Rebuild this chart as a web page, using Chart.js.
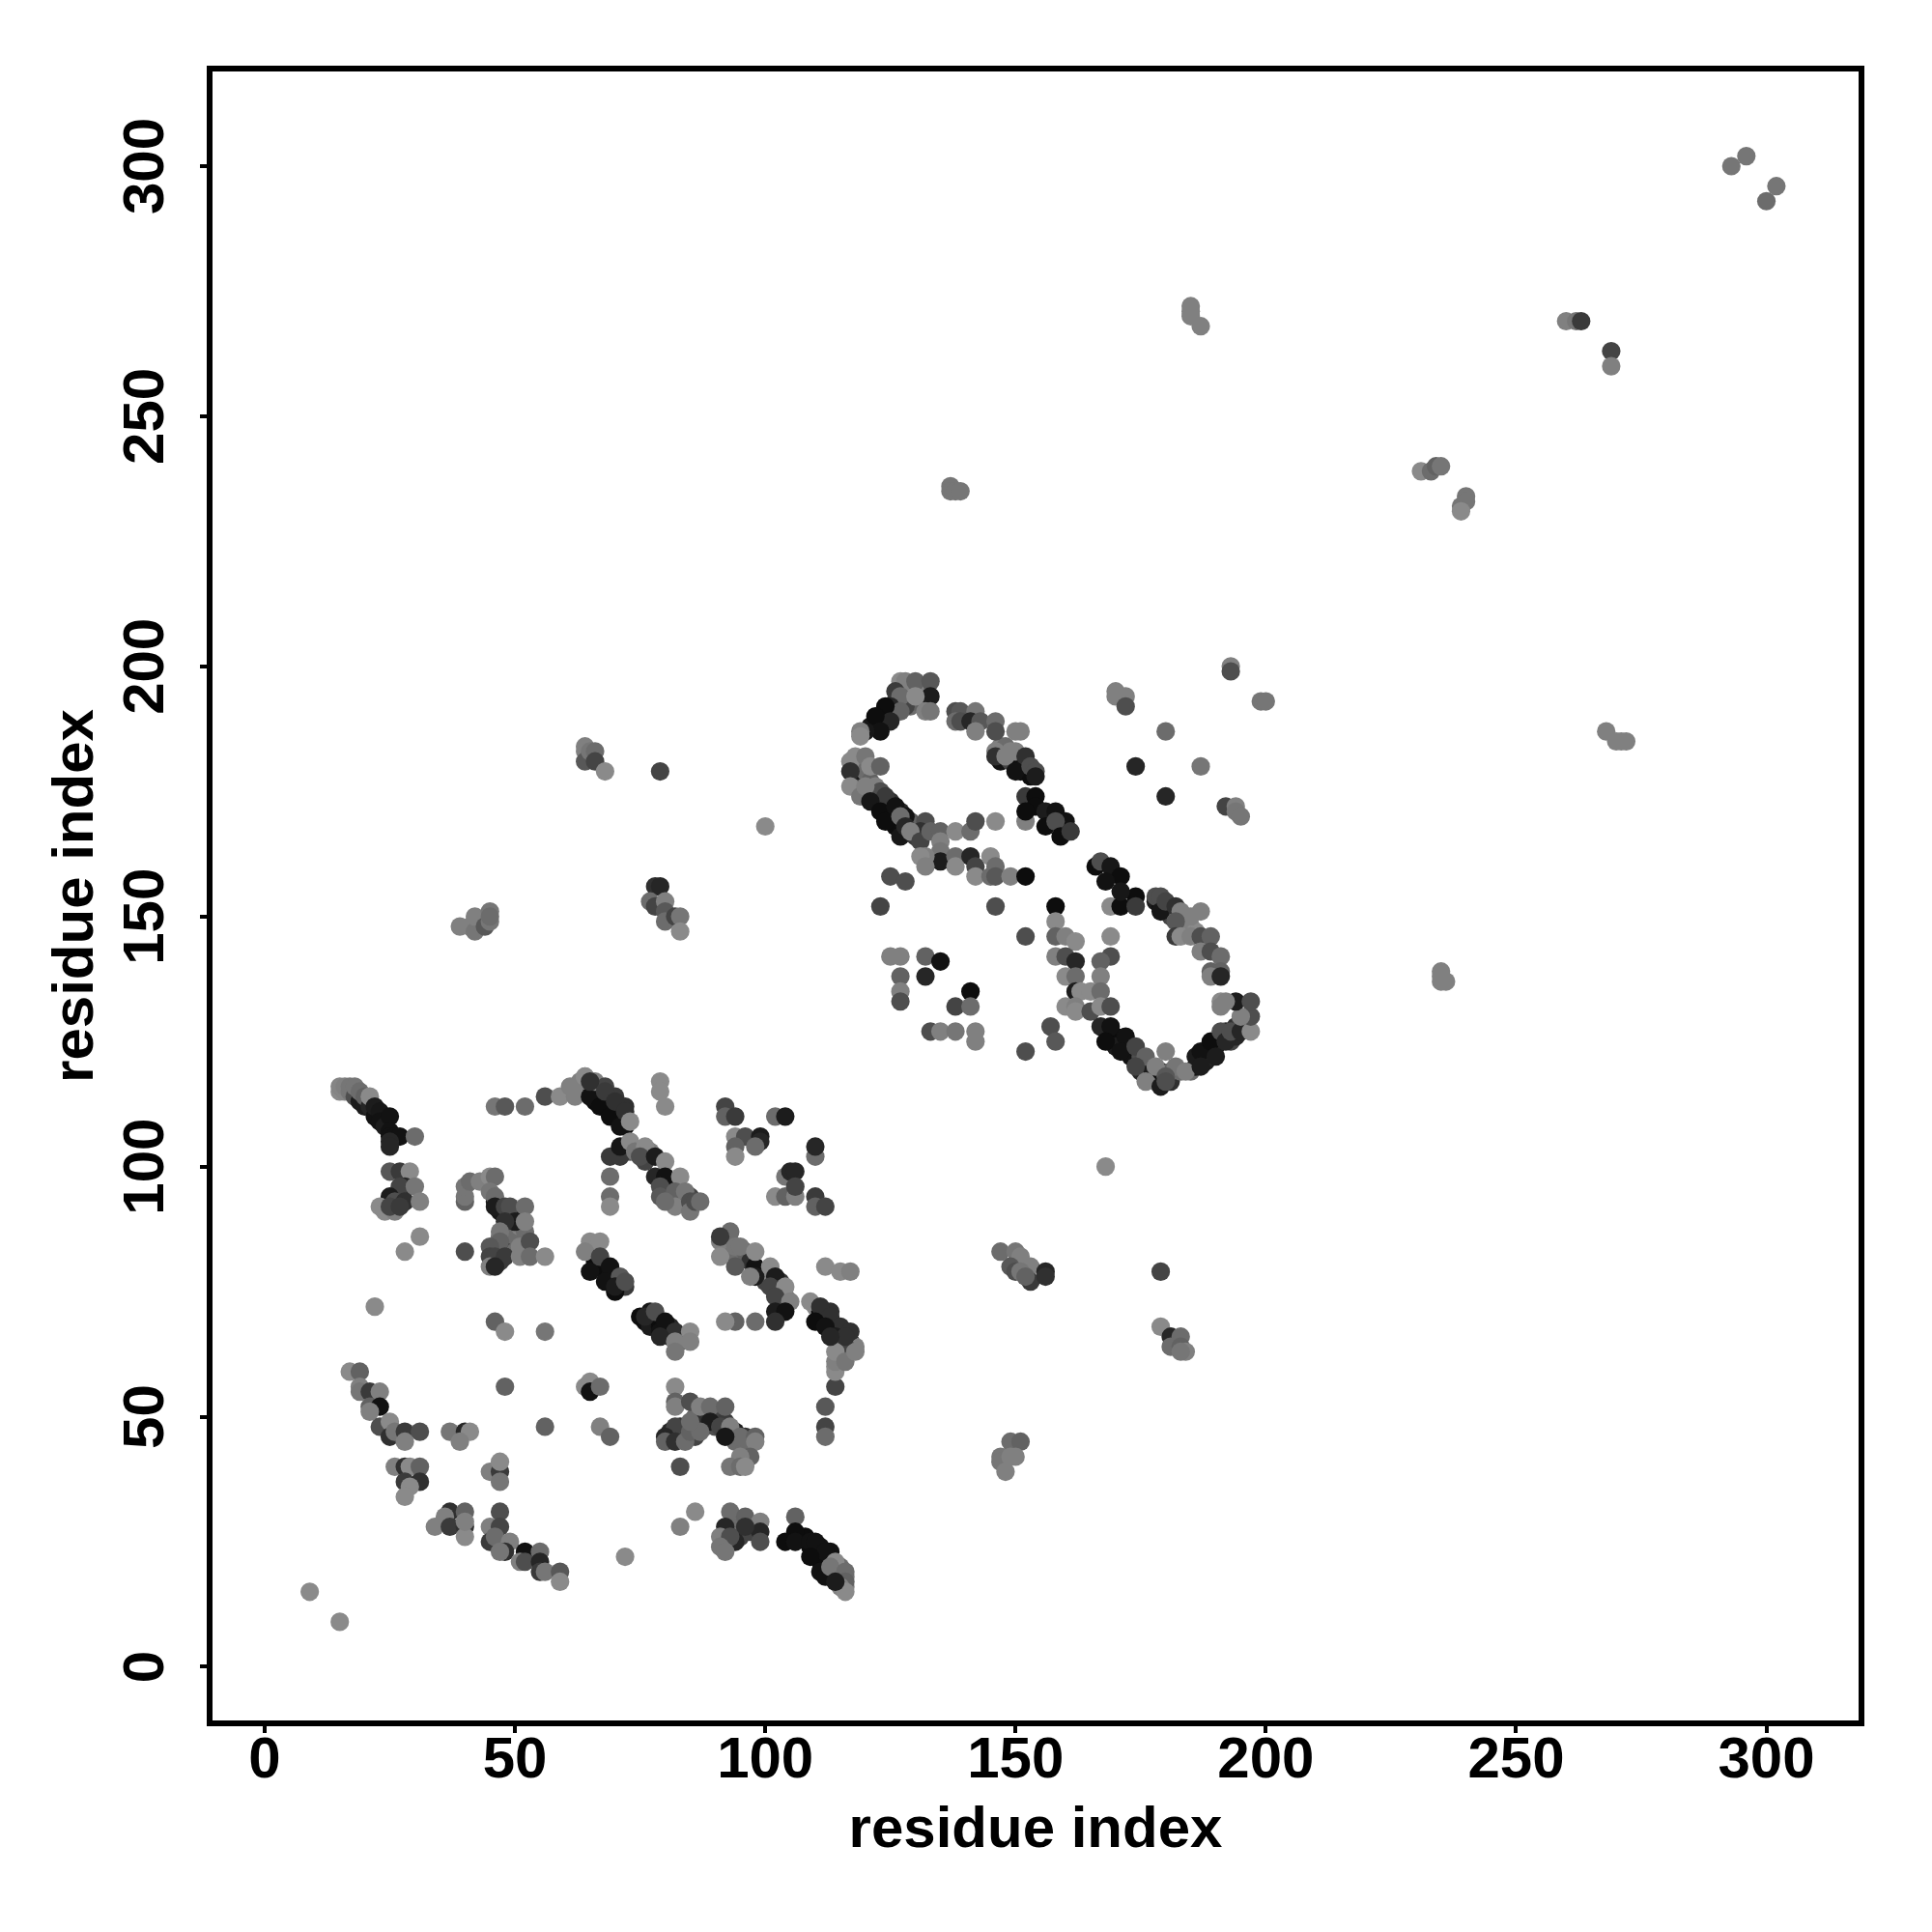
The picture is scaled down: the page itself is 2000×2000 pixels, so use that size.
<!DOCTYPE html>
<html><head><meta charset="utf-8">
<style>html,body{margin:0;padding:0;background:#fff}#w{width:2000px;height:2000px}</style>
<script src="https://cdn.jsdelivr.net/npm/chart.js@4"></script>
</head><body><div id="w"><canvas id="c" width="2000" height="2000"></canvas></div>
<script>
const tickValues=[0,50,100,150,200,250,300];
const axisTitle="residue index";
const fillAX=[121,122,123,124,125,126,126,128,128,129,131,129,130,128,118,118,118,118,119,119,120,121,122,123,124,125,125,127,127,128,126,129,130,130];
const fillAY=[188,188,189,190,191,192,193,193,195,196,195,192,193,192,180,178,176,182,178,180,179,177,174,173,172,171,173,171,169,168,168,169,168,166];
const fillAG=[15,20,30,20,40,40,60,90,110,130,120,100,90,60,100,50,120,130,20,110,100,90,15,10,5,10,40,30,10,10,5,80,90,50];
const fillBX=[147,147,148,149,149,151,151,152,153,170,170,172,173,175,175,177,177,178,179,181,181,183,185,186,186,188,188,189,190,191,192,193,194,195,194];
const fillBY=[184,181,184,181,183,179,181,180,178,126,124,123,122,122,119,118,120,117,119,117,119,119,119,120,122,123,121,122,124,125,127,125,128,129,126];
const fillBG=[120,10,100,60,120,10,5,20,5,5,20,10,10,70,30,90,20,130,10,40,90,100,100,15,20,10,20,30,10,30,30,60,40,50,30];
const fillCX=[178,179,180,181,181,182,183,184,185,186,66,66,67,68,69,69,70,71,72,72];
const fillCY=[153,152,151,150,152,150,148,148,148,147,115,113,115,113,112,113,111,110,109,108];
const fillCG=[20,10,40,60,50,130,120,120,120,130,10,5,40,5,30,100,15,50,10,5];
const fillDX=[66,67,68,66,68,69,69,70,71,71,72,70,75,76,77,78,77,79,79,80,81,81,82,83,84];
const fillDY=[81,80,79,80,80,78,77,78,76,77,76,75,70,69,71,70,68,68,67,67,66,68,66,65,66];
const fillDG=[5,15,10,5,5,10,5,10,10,30,50,5,5,5,15,30,20,5,10,10,10,30,30,80,100];
const fillEX=[110,111,112,113,113,114,115,115,116,117,118,116,114,115,117,108,109,110,111,111,112,113,113,114,115,115,116,116];
const fillEY=[72,71,70,69,71,68,67,65,67,65,64,62,60,62,63,26,24,23,24,21,21,23,19,19,18,20,18,16];
const fillEG=[130,5,10,5,40,5,10,10,30,40,120,100,130,110,120,5,5,5,10,5,5,10,5,20,60,100,110,120];
const fillFX=[81,83,83,84,86,86,86,88,88,90,90,91,92,94,96,94,96,92,93,94,95,95,97,92];
const fillFY=[47,46,48,47,46,48,50,48,50,50,48,50,49,47,46,45,44,27,28,27,26,29,27,25];
const fillFG=[30,70,40,60,60,90,100,110,40,100,70,60,50,20,40,100,100,50,50,30,60,100,60,60];
const fillGX=[47,48,49,48,47,49,50,46,47,48,50,48,50,49,46,47,51,52,81,83,84,85,75,77,76,73];
const fillGY=[83,84,85,86,86,87,86,83,81,83,83,90,91,90,93,91,88,87,96,94,93,94,103,103,101,103];
const fillGG=[70,90,80,100,100,110,100,20,50,40,100,20,20,10,20,15,120,100,40,70,40,60,100,120,60,80];
const fillHX=[92,93,93,92,95,96,97,99,100,100,103,103,104];
const fillHY=[85,83,85,83,82,83,81,79,77,79,77,75,74];
const fillHG=[70,60,110,100,100,90,40,15,60,120,40,100,100];
const aX=[15,15,16,16,17,17,18,18,19,19,20,20,21,21,22,22,23,23,24,25,25,25,26,27,25,25,30];
const aY=[115,116,115,116,115,116,114,116,113,115,112,114,112,114,110,112,111,109,108,110,107,106,106,106,105,104,106];
const aG=[130,125,125,120,110,110,70,110,20,100,20,90,30,130,10,20,15,10,20,10,10,10,10,10,30,30,100];
const bX=[25,27,29,28,27,30,25,26,28,31,23,24,26,25,27,31,28,22,46,48,56];
const bY=[99,99,99,96,96,96,94,93,93,93,92,91,91,92,92,86,83,72,69,67,67];
const bG=[80,50,130,30,60,110,20,70,40,120,130,130,120,60,50,130,130,130,90,130,110];
const cX=[46,48,52,56,59,61,62,63,64];
const cY=[112,112,112,114,114,116,114,117,118];
const cG=[110,80,100,70,130,120,120,120,130];
const dX=[40,40,40,41,43,45,46,45,46,46,48,49,52,50,48,52,47,47,45,45,46,48,51,53,51,53,56,45,46,40];
const dY=[93,94,96,97,97,98,98,95,94,92,92,92,92,89,89,89,87,85,84,82,82,82,84,85,82,82,82,80,80,83];
const dG=[90,110,110,100,120,130,100,110,100,20,60,70,100,20,40,120,110,90,80,60,60,50,120,70,120,100,130,120,30,70];
const eX=[65,67,69,71,66,68,70,72,64,65,68,70,72,73];
const eY=[114,112,110,108,117,116,114,112,118,117,115,113,111,109];
const eG=[10,5,5,10,120,60,50,40,130,40,50,40,40,130];
const fX=[79,79,80,92,92,94,102,104,94,96,99,99,98,94,94,110,110];
const fY=[117,115,112,112,110,110,110,110,106,106,106,105,104,104,102,102,104];
const fG=[130,130,130,60,90,50,100,20,130,70,20,30,100,90,130,100,30];
const gX=[69,71,71,73,74,76,75,78,80,78,80,83,79,79,82,84,82,80,85,85,86,87,69,69,69];
const gY=[102,102,104,105,103,104,102,102,101,98,98,98,96,94,95,95,92,93,93,91,93,93,98,94,92];
const gG=[50,50,15,130,110,130,70,20,130,30,10,130,70,80,90,110,120,100,70,110,70,100,100,100,130];
const hX=[104,102,104,105,106,106,106,110,110,112];
const hY=[98,94,94,99,99,94,96,94,92,92];
const hG=[110,130,90,30,30,120,60,50,90,60];
const iX=[91,93,91,91,94,95,94,98,98,98,97,101,102,101,104,102,105,102,104,102,98,94,92];
const iY=[85,87,86,82,84,84,80,80,78,83,78,80,78,76,76,74,73,71,71,69,69,69,69];
const iG=[120,100,50,130,110,110,80,10,20,130,120,130,20,60,130,60,120,20,10,40,100,90,130];
const jX=[112,115,117,109,111,113,115,117,110,112,114,116];
const jY=[80,79,79,73,72,70,68,67,69,68,66,64];
const jG=[130,130,120,130,40,40,40,40,5,10,20,60];
const kX=[65,67,64,65,67,69,68,71,70,72];
const kY=[85,85,83,79,82,80,77,78,76,77];
const kG=[130,130,120,10,60,10,10,80,20,70];
const lX=[76,78,80,82,85,79,82,85,82];
const lY=[70,71,69,67,67,66,65,65,63];
const lG=[30,70,10,40,130,30,120,120,110];
const mX=[17,19,19,19,21,23,21,23,21,23,25,25,26,28,31,28,37,40,41,39,48,56];
const mY=[59,59,56,55,55,55,52,52,51,48,49,46,47,47,47,45,47,47,47,45,56,48];
const mG=[130,90,120,110,50,120,90,10,120,70,130,40,110,50,70,120,110,30,130,120,90,90];
const nX=[26,28,29,31,28,31,29,28,45,47,47,47];
const nY=[40,40,40,40,37,37,36,34,39,39,41,37];
const nG=[120,40,130,90,50,40,130,130,120,50,130,110];
const oX=[37,40,34,36,37,40,40,40,47,45,47,45,46,49,48,47,52,55,51,52,55,55,56,59,59];
const oY=[31,31,28,30,28,28,26,29,31,28,28,25,26,25,23,23,23,23,21,21,21,19,19,19,17];
const oG=[40,90,120,120,50,40,130,120,70,120,60,50,100,120,40,110,10,100,120,70,30,50,110,80,130];
const pX=[9,15,64,65,65,67,67,69,72,86,83];
const pY=[15,9,56,57,55,56,48,46,22,31,28];
const pG=[130,130,130,130,10,100,120,90,130,130,120];
const qX=[82,82,82,85,87,89,92,89,91,93,95,98,98,92,82,80,80,82,84,85,87,85,83];
const qY=[56,53,52,53,52,52,52,49,48,48,46,46,45,46,48,46,45,45,45,47,47,49,40];
const qG=[130,90,120,70,120,100,90,20,60,120,100,90,120,15,60,30,90,40,100,90,100,100,70];
const rX=[97,95,93,95,96,112,112,112,114,114,114,114,116,118,116,113];
const rY=[42,42,40,40,40,52,48,46,56,59,61,63,61,63,66,66];
const rG=[90,120,110,100,130,80,60,100,60,130,120,130,110,120,40,30];
const sX=[93,96,99,99,99,96,94,92,91,93,91,92];
const sY=[31,30,29,27,25,28,25,28,26,26,24,23];
const sG=[100,90,120,30,70,40,30,30,120,70,110,110];
const tX=[106,106,104,106,109,110,112,109,111,112,114,113,116,116,115,116,114];
const tY=[30,27,25,25,25,25,23,22,19,18,21,20,19,17,16,15,17];
const tG=[90,5,5,10,10,10,10,5,10,10,130,110,100,90,120,130,20];
const uX=[127,128,130,133,133,132,133,126,127,130,125,127,124,125,122,123,120,119,119];
const uY=[197,197,197,197,194,191,191,195,194,194,192,191,192,189,190,187,187,187,186];
const uG=[130,120,90,80,20,120,110,50,100,130,30,90,5,30,5,10,15,120,130];
const vX=[138,139,138,139,142,141,143,142,146,146,150,151,146,146,148,150,152,150,153,154,154];
const vY=[191,191,189,189,191,189,189,187,189,187,187,187,183,182,182,183,182,179,180,179,178];
const vG=[70,80,100,70,110,30,80,120,100,70,120,120,120,40,120,120,40,10,70,70,20];
const wX=[117,117,117,120,121,123,119,122,123,124,120,121,123,126,124,128,127,127,128,132,131,129,131,133,135,138,141,142,146,152];
const wY=[181,179,176,182,180,180,174,176,175,174,176,173,171,172,169,170,166,170,168,169,167,167,165,167,167,167,167,169,169,169];
const wG=[130,40,130,110,130,90,110,120,70,50,120,15,5,10,5,10,15,100,30,70,40,120,60,90,90,130,100,70,130,120];
const xX=[135,135,135,132,131,132,138,138,141,142,145,146,142,145,146,149,152,125,128,123,146,158];
const xY=[165,163,161,162,162,160,162,160,162,160,162,160,158,158,158,158,158,158,157,152,152,152];
const xG=[120,110,20,120,130,120,100,130,30,60,130,100,130,100,80,120,5,70,70,60,70,5];
const yX=[152,154,154,152,156,158,156,160,158,159,161];
const yY=[174,174,172,171,171,171,168,169,169,166,167];
const yG=[50,5,5,5,20,10,5,10,70,5,50];
const zX=[158,158,160,162,152,158,160,162,160,162,162,163,165,160,162,162,165,157,158,152];
const zY=[149,146,146,145,146,142,142,141,138,138,135,135,135,132,132,131,131,128,125,123];
const zG=[130,90,120,130,70,120,70,30,130,100,20,130,130,130,120,130,70,70,80,70];
const aaX=[169,169,169,167,167,167,167,169,167,169,168,172,171,174,176,174,180,182,178,180,176,179,180,184];
const aaY=[146,152,142,141,138,135,132,132,128,128,125,126,123,124,122,120,123,120,120,118,117,116,117,119];
const aaG=[130,130,70,90,120,100,130,70,30,10,5,10,10,60,90,60,120,110,120,80,120,20,70,120];
const abX=[187,187,189,190,191,192,193,195,197,197,195,194,197,191,191,192];
const abY=[123,120,125,122,127,125,127,127,127,130,130,133,133,133,132,133];
const abG=[10,20,5,20,70,30,70,30,130,70,120,20,70,130,120,120];
const acX=[166,167,169,171,168,174,171,174,171,178,179,179,180,182,183,185,187,182];
const acY=[160,161,160,158,157,154,152,152,155,154,154,151,153,152,151,150,151,149];
const acG=[5,70,15,5,10,5,5,50,15,70,70,15,60,40,120,120,120,80];
const adX=[182,183,185,187,189,187,189,191,189,191,189,191];
const adY=[146,146,146,146,146,143,143,142,139,139,138,138];
const adG=[50,130,120,70,90,120,70,100,90,90,120,30];
const aeX=[293,296,302,300,185,185,185,187,260,262,263,269,269,231,233,234,235,239,240,240,239];
const aeY=[300,302,296,293,272,271,270,268,269,269,269,263,260,239,239,240,240,232,234,233,231];
const aeG=[110,110,110,100,120,120,120,120,120,110,50,60,120,130,100,90,110,110,110,110,130];
const afX=[137,137,138,139,193,193,199,200,170,170,172,172,180,174,187,180,192,194,194,195];
const afY=[236,235,235,235,200,199,193,193,195,194,194,192,187,180,180,174,172,172,171,170];
const afG=[110,110,110,110,120,70,110,110,120,120,120,70,100,30,110,30,60,120,110,110];
const agX=[64,64,64,65,66,66,68,79,100,39,41,42,42,44,45,45,45,78,79,77,78,80,80,80,82,83,83];
const agY=[184,183,181,183,183,181,179,179,168,148,148,147,150,148,149,151,150,156,156,153,152,153,151,149,150,150,147];
const agG=[120,120,80,110,100,60,130,60,130,120,120,110,120,80,110,110,100,40,30,100,60,120,80,100,60,110,130];
const ahX=[235,235,235,236,268,270,271,272,168,147,150,151,149,150,153,151,153,156,156,152];
const ahY=[139,138,137,137,187,185,185,185,100,83,83,82,80,79,80,79,77,79,78,78];
const ahG=[120,120,120,120,120,120,120,120,130,100,110,120,80,70,120,110,50,30,40,90];
const aiX=[179,179,181,183,181,183,184,183,147,147,148,149,151,149,150];
const aiY=[79,68,66,66,64,64,63,63,42,41,39,45,45,42,42];
const aiG=[60,130,30,100,100,90,120,110,110,110,120,100,90,120,120];
const ajX=[125,127,132,135,127,127,127,132,138,141,141,133,135,138,142,142];
const ajY=[142,142,142,141,138,135,133,138,132,135,132,127,127,127,127,125];
const ajG=[120,120,90,10,90,120,70,30,60,5,100,70,120,110,120,120];

const groups=[[fillAX,fillAY,fillAG],[fillBX,fillBY,fillBG],[fillCX,fillCY,fillCG],[fillDX,fillDY,fillDG],[fillEX,fillEY,fillEG],[fillFX,fillFY,fillFG],[fillGX,fillGY,fillGG],[fillHX,fillHY,fillHG],[aX,aY,aG],[bX,bY,bG],[cX,cY,cG],[dX,dY,dG],[eX,eY,eG],[fX,fY,fG],[gX,gY,gG],[hX,hY,hG],[iX,iY,iG],[jX,jY,jG],[kX,kY,kG],[lX,lY,lG],[mX,mY,mG],[nX,nY,nG],[oX,oY,oG],[pX,pY,pG],[qX,qY,qG],[rX,rY,rG],[sX,sY,sG],[tX,tY,tG],[uX,uY,uG],[vX,vY,vG],[wX,wY,wG],[xX,xY,xG],[yX,yY,yG],[zX,zY,zG],[aaX,aaY,aaG],[abX,abY,abG],[acX,acY,acG],[adX,adY,adG],[aeX,aeY,aeG],[afX,afY,afG],[agX,agY,agG],[ahX,ahY,ahG],[aiX,aiY,aiG],[ajX,ajY,ajG]];
const pts=[],cols=[];
groups.forEach(([X,Y,G])=>X.forEach((v,i)=>{pts.push({x:v,y:Y[i]});const g=G[i]+8;cols.push(`rgb(${g},${g},${g})`);}));
const font={family:'"Liberation Sans"',size:60,weight:'bold'};
const setTicks=s=>{s.ticks=tickValues.map(v=>({value:v}));};
const common={afterBuildTicks:setTicks,
  grid:{drawOnChartArea:false,drawTicks:true,tickLength:10,color:'#000',lineWidth:4},
  border:{display:false}};
new Chart(document.getElementById('c'),{
  type:'scatter',
  data:{datasets:[{data:pts,backgroundColor:cols,borderWidth:0,pointRadius:9.6,pointHoverRadius:9.6}]},
  plugins:[{id:'box',afterDraw(ch){const a=ch.chartArea,c=ch.ctx;c.save();c.strokeStyle='#000';c.lineWidth=6;c.lineJoin='miter';c.strokeRect(a.left,a.top,a.right-a.left,a.bottom-a.top);c.restore();}}],
  options:{responsive:false,animation:false,devicePixelRatio:1,
    layout:{padding:{top:71,right:73,left:43,bottom:69}},
    plugins:{legend:{display:false},tooltip:{enabled:false}},
    scales:{
      x:{...common,type:'linear',min:-11,max:319,
        ticks:{color:'#000',font,padding:-7,maxRotation:0,autoSkip:false},
        title:{display:true,text:axisTitle,color:'#000',font,padding:{top:0,bottom:0}},
        afterFit(s){s.height=147;}},
      y:{...common,type:'linear',min:-11.3,max:319.5,
        ticks:{color:'#000',font,padding:4,minRotation:90,maxRotation:90,crossAlign:'center',autoSkip:false},
        title:{display:true,text:axisTitle,color:'#000',font,padding:{top:0,bottom:0}},
        afterFit(s){s.width=174;}}
    }}
});
</script></body></html>
